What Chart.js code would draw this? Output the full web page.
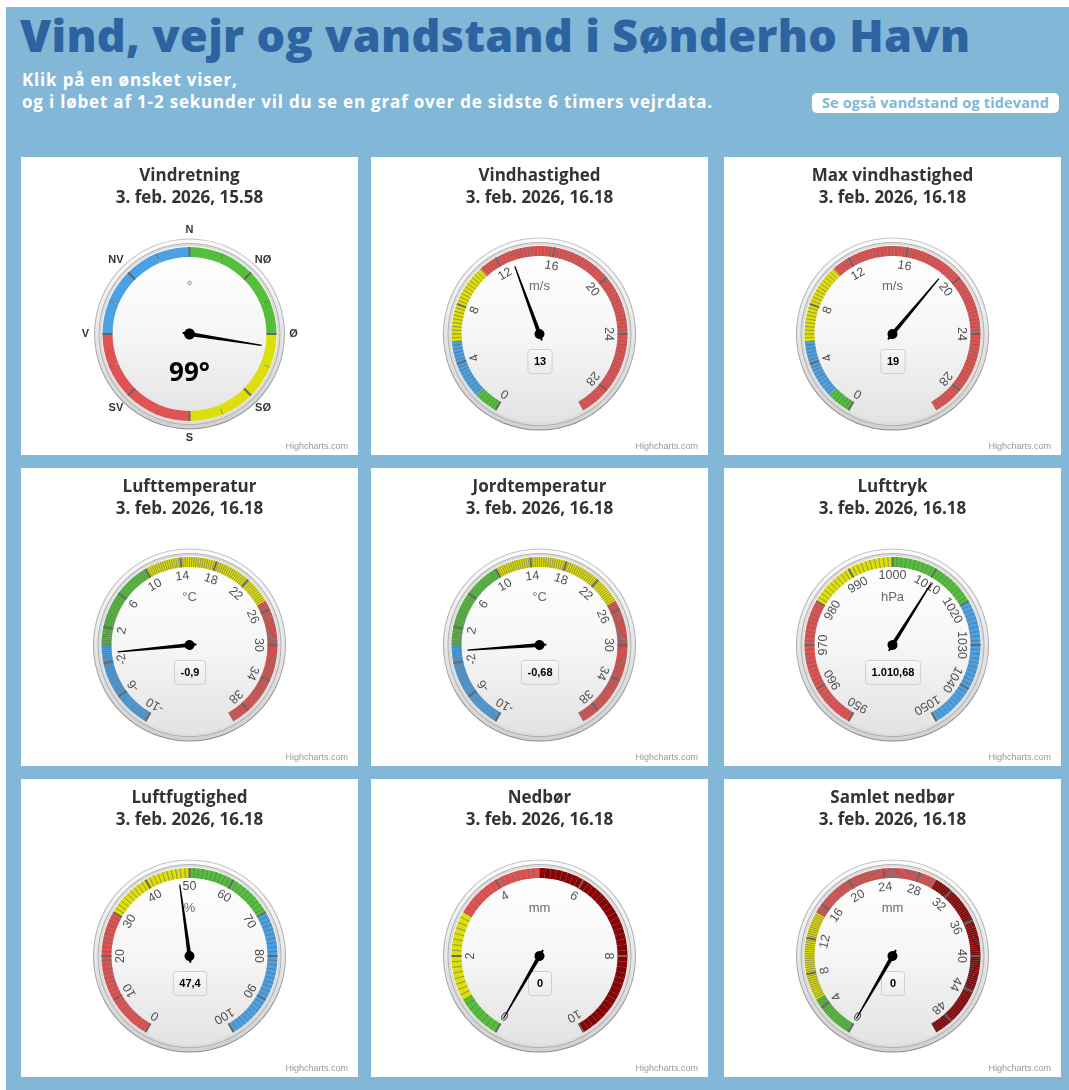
<!DOCTYPE html>
<html lang="da">
<head>
<meta charset="utf-8">
<title>Vind, vejr og vandstand i Sønderho Havn</title>
<script src="https://cdn.jsdelivr.net/npm/chart.js@4.4.1/dist/chart.umd.min.js"></script>
<style>
  html, body { margin: 0; padding: 0; background: #fff; }
  body { width: 1069px; height: 1090px; position: relative; overflow: hidden; font-family: 'Open Sans', sans-serif; }
  #page { position: absolute; left: 6px; top: 7px; width: 1063px; height: 1083px; background: #82b7d7; }
  #head { position: absolute; left: 20px; top: 13px; margin: 0; font-size: 45px; line-height: 44px; font-weight: 800; color: #2c63a0; white-space: nowrap; }
  .sub { position: absolute; left: 22px; font-size: 17px; line-height: 22px; font-weight: 700; color: #fff; white-space: nowrap; }
  #btn { position: absolute; left: 812px; top: 93px; width: 247px; height: 20px; line-height: 20px; border-radius: 5px; background: #fff; color: #82b7d7; font-size: 14.5px; font-weight: 700; text-align: center; white-space: nowrap; }
  .panel { position: absolute; width: 337px; height: 298px; background: #fff; }
  .panel canvas { position: absolute; left: 0; top: 0; }
  .credit { position: absolute; right: 10px; bottom: 4px; font: 9px 'Liberation Sans', Arial, sans-serif; color: #999; }
</style>
</head>
<body>
<div id="page"></div>
<h1 id="head">Vind, vejr og vandstand i Sønderho Havn</h1>
<div class="sub" id="sub1" style="top:69px">Klik på en ønsket viser,</div>
<div class="sub" id="sub2" style="top:91px">og i løbet af 1-2 sekunder vil du se en graf over de sidste 6 timers vejrdata.</div>
<div id="btn">Se også vandstand og tidevand</div>
<div id="grid"></div>
<script>
// --- data ---
const gaugeTitles = ['Vindretning', 'Vindhastighed', 'Max vindhastighed', 'Lufttemperatur', 'Jordtemperatur', 'Lufttryk', 'Luftfugtighed', 'Nedbør', 'Samlet nedbør'];
const gaugeTimes = ['3. feb. 2026, 15.58', '3. feb. 2026, 16.18', '3. feb. 2026, 16.18', '3. feb. 2026, 16.18', '3. feb. 2026, 16.18', '3. feb. 2026, 16.18', '3. feb. 2026, 16.18', '3. feb. 2026, 16.18', '3. feb. 2026, 16.18'];
const gaugeValues = [99, 13, 19, -0.9, -0.68, 1010.68, 47.4, 0, 0];
const gaugeUnits = ['', 'm/s', 'm/s', '°C', '°C', 'hPa', '%', 'mm', 'mm'];
const gaugeMin = [0, 0, 0, -10, -10, 950, 0, 0, 0];
const gaugeMax = [360, 30, 30, 40, 40, 1050, 100, 10, 50];
const gaugeMinorStep = [22.5, 0.25, 0.25, 0.25, 0.25, 1, 1, 0.125, 0.25];

const compassTicks = [0, 45, 90, 135, 180, 225, 270, 315];
const compassLabels = ['N', 'NØ', 'Ø', 'SØ', 'S', 'SV', 'V', 'NV'];
const speedTicks = [0, 4, 8, 12, 16, 20, 24, 28];
const tempTicks = [-10, -6, -2, 2, 6, 10, 14, 18, 22, 26, 30, 34, 38];
const pressureTicks = [950, 960, 970, 980, 990, 1000, 1010, 1020, 1030, 1040, 1050];
const humidityTicks = [0, 10, 20, 30, 40, 50, 60, 70, 80, 90, 100];
const rainTicks = [0, 2, 4, 6, 8, 10];
const rainTotalTicks = [0, 4, 8, 12, 16, 20, 24, 28, 32, 36, 40, 44, 48];

const GREEN = '#55bf3b', YELLOW = '#dddf0d', RED = '#df5353', BLUE = '#4ca1e3', DARKRED = '#8b0000';
const compassBands = [0, 90, 180, 270, 360];
const compassColors = [GREEN, YELLOW, RED, BLUE];
const speedBands = [0, 1.6, 5.5, 10.8, 30];
const speedColors = [GREEN, BLUE, YELLOW, RED];
const tempBands = [-10, 0, 10, 25, 40];
const tempColors = [BLUE, GREEN, YELLOW, RED];
const pressureBands = [950, 980, 1000, 1020, 1050];
const pressureColors = [RED, YELLOW, GREEN, BLUE];
const humidityBands = [0, 30, 50, 70, 100];
const humidityColors = [RED, YELLOW, GREEN, BLUE];
const rainBands = [0, 1, 3, 5, 10];
const rainColors = [GREEN, YELLOW, RED, DARKRED];
const rainTotalBands = [0, 5, 15, 30, 50];
const rainTotalColors = [GREEN, YELLOW, RED, DARKRED];

const gaugeTicks = [compassTicks, speedTicks, speedTicks, tempTicks, tempTicks, pressureTicks, humidityTicks, rainTicks, rainTotalTicks];
const gaugeBands = [compassBands, speedBands, speedBands, tempBands, tempBands, pressureBands, humidityBands, rainBands, rainTotalBands];
const gaugeColors = [compassColors, speedColors, speedColors, tempColors, tempColors, pressureColors, humidityColors, rainColors, rainTotalColors];

const panelLeft = [21, 371, 724];
const panelTop = [157, 468, 779];

// stretch a text line to the width it has in the picture
function fitWidth(el, font, target) {
  const c = document.createElement('canvas').getContext('2d');
  c.font = font;
  const w = c.measureText(el.textContent).width;
  const ls = (target - w) / (el.textContent.length - 1);
  el.style.letterSpacing = ls.toFixed(2) + 'px';
  return ls;
}
fitWidth(document.getElementById('head'), '800 45px "Open Sans"', 950);
const subLs = fitWidth(document.getElementById('sub2'), '700 17px "Open Sans"', 690);
document.getElementById('sub1').style.letterSpacing = subLs.toFixed(2) + 'px';
fitWidth(document.getElementById('btn'), '700 14.5px "Open Sans"', 227);

function fmtDa(v) {
  const parts = Math.abs(v).toString().split('.');
  const int = parts[0].replace(/\B(?=(\d{3})+(?!\d))/g, '.');
  return (v < 0 ? '-' : '') + int + (parts[1] ? ',' + parts[1] : '');
}

// cut the scale into minor-tick slices, also cut at band edges
function buildSlices(i) {
  const min = gaugeMin[i], max = gaugeMax[i], step = gaugeMinorStep[i];
  const n = Math.round((max - min) / step);
  const stops = [];
  for (let k = 0; k < n; k++) stops.push({ v: +(min + k * step).toFixed(4), tick: true });
  gaugeBands[i].forEach(e => {
    if (e < max && !stops.some(s => Math.abs(s.v - e) < 1e-6)) stops.push({ v: e, tick: false });
  });
  stops.sort((a, b) => a.v - b.v);
  const widths = [], colors = [];
  stops.forEach((s, k) => {
    const end = k + 1 < stops.length ? stops[k + 1].v : max;
    widths.push(+(end - s.v).toFixed(4));
    const mid = (s.v + end) / 2;
    let b = 0;
    while (b < gaugeBands[i].length - 2 && mid > gaugeBands[i][b + 1]) b++;
    colors.push(gaugeColors[i][b]);
  });
  return { stops, widths, colors };
}

function disc(ctx, x, y, r, fill) {
  ctx.beginPath();
  ctx.arc(x, y, r, 0, Math.PI * 2);
  ctx.fillStyle = fill;
  ctx.fill();
}

function vGrad(ctx, y0, y1, stops) {
  const g = ctx.createLinearGradient(0, y0, 0, y1);
  stops.forEach(s => g.addColorStop(s[0], s[1]));
  return g;
}

const gaugePlugin = {
  id: 'gauge',
  beforeDatasetsDraw(chart) {
    const ctx = chart.ctx;
    const arc = chart.getDatasetMeta(0).data[0];
    const x = arc.x, y = arc.y, R = arc.outerRadius;
    ctx.save();
    disc(ctx, x, y, R * 1.097, vGrad(ctx, y - R, y + R, [[0, '#c4c4c4'], [1, '#8c8c8c']]));
    disc(ctx, x, y, R * 1.086, vGrad(ctx, y - R, y + R, [[0, '#fbfbfb'], [1, '#d2d2d2']]));
    disc(ctx, x, y, R * 1.045, '#a8a8a8');
    disc(ctx, x, y, R * 1.036, '#dcdcdc');
    disc(ctx, x, y, R * 1.01, vGrad(ctx, y - R, y + R, [[0, '#ffffff'], [0.5, '#f6f6f6'], [1, '#e3e3e3']]));
    ctx.restore();
  },
  afterDatasetsDraw(chart, args, opts) {
    const i = opts.idx;
    const ctx = chart.ctx;
    const arcs = chart.getDatasetMeta(0).data;
    const stops = chart.$slices.stops;
    const x = arcs[0].x, y = arcs[0].y, R = arcs[0].outerRadius, Ri = arcs[0].innerRadius;
    const ticks = gaugeTicks[i];
    const compass = i === 0;
    const angleOf = v => {
      if (Math.abs(v - gaugeMax[i]) < 1e-6) return arcs[arcs.length - 1].endAngle;
      const k = stops.findIndex(s => Math.abs(s.v - v) < 1e-6);
      return arcs[k].startAngle;
    };
    ctx.save();
    // tick marks on the bands
    const tickVals = stops.filter(s => s.tick).map(s => s.v);
    if (!compass) tickVals.push(gaugeMax[i]);
    tickVals.forEach(v => {
      const a = angleOf(v);
      const major = ticks.some(t => Math.abs(t - v) < 1e-6);
      const r0 = compass && !major ? R - 6 : Ri;
      ctx.beginPath();
      ctx.moveTo(x + r0 * Math.cos(a), y + r0 * Math.sin(a));
      ctx.lineTo(x + R * Math.cos(a), y + R * Math.sin(a));
      ctx.lineWidth = major ? 2 : 1;
      ctx.strokeStyle = major ? '#666' : 'rgba(70,70,70,0.5)';
      ctx.stroke();
    });
    // axis labels
    ctx.textAlign = 'center';
    ctx.textBaseline = 'middle';
    ticks.forEach((t, k) => {
      const a = angleOf(t);
      if (compass) {
        ctx.font = 'bold 11px "Liberation Sans", Arial, sans-serif';
        ctx.fillStyle = '#333';
        ctx.fillText(compassLabels[k], x + (R + 17) * Math.cos(a), y + (R + 17) * Math.sin(a));
      } else {
        ctx.save();
        ctx.translate(x, y);
        ctx.rotate(a + Math.PI / 2);
        ctx.font = '12.5px "Liberation Sans", Arial, sans-serif';
        ctx.fillStyle = '#505050';
        ctx.fillText(String(t), 0, -(R - 19));
        ctx.restore();
      }
    });
    // unit
    if (gaugeUnits[i]) {
      ctx.font = '13px "Liberation Sans", Arial, sans-serif';
      ctx.fillStyle = '#6a6a6a';
      ctx.fillText(gaugeUnits[i], x, y - 48);
    }
    // value box / big value
    if (compass) {
      ctx.font = 'bold 26px "Open Sans", sans-serif';
      ctx.fillStyle = '#000';
      ctx.fillText(gaugeValues[i] + '°', x, y + 40);
      ctx.beginPath();
      ctx.arc(x, y - 51, 1.8, 0, Math.PI * 2);
      ctx.fillStyle = '#e6e6e6';
      ctx.fill();
      ctx.strokeStyle = '#999';
      ctx.lineWidth = 1;
      ctx.stroke();
    } else {
      const txt = fmtDa(gaugeValues[i]);
      ctx.font = 'bold 11px "Liberation Sans", Arial, sans-serif';
      const w = Math.max(ctx.measureText(txt).width + 12, 23);
      const bx = x - w / 2, by = y + 15;
      ctx.beginPath();
      ctx.roundRect(bx + 0.5, by + 0.5, w, 24, 3);
      ctx.fillStyle = vGrad(ctx, by, by + 24, [[0, '#f8f8f8'], [1, '#ececec']]);
      ctx.fill();
      ctx.strokeStyle = '#cfcfcf';
      ctx.lineWidth = 1;
      ctx.stroke();
      ctx.fillStyle = '#000';
      ctx.fillText(txt, x + 0.5, by + 12.5);
    }
    // needle from the value dataset
    const va = chart.getDatasetMeta(1).data[0].endAngle;
    const L = R * (compass ? 0.84 : 0.82);
    ctx.translate(x, y);
    ctx.rotate(va + Math.PI / 2);
    ctx.beginPath();
    ctx.moveTo(-2, 0);
    ctx.lineTo(-0.6, -L);
    ctx.lineTo(0.6, -L);
    ctx.lineTo(2, 0);
    ctx.lineTo(0.8, 7);
    ctx.lineTo(-0.8, 7);
    ctx.closePath();
    ctx.fillStyle = '#000';
    ctx.fill();
    ctx.beginPath();
    ctx.arc(0, 0, compass ? 5.5 : 5, 0, Math.PI * 2);
    ctx.fill();
    ctx.restore();
  }
};

const grid = document.getElementById('grid');
gaugeTitles.forEach((title, i) => {
  const panel = document.createElement('div');
  panel.className = 'panel';
  panel.style.left = panelLeft[i % 3] + 'px';
  panel.style.top = panelTop[Math.floor(i / 3)] + 'px';
  const canvas = document.createElement('canvas');
  canvas.width = 337;
  canvas.height = 298;
  panel.appendChild(canvas);
  const credit = document.createElement('div');
  credit.className = 'credit';
  credit.textContent = 'Highcharts.com';
  panel.appendChild(credit);
  grid.appendChild(panel);

  const compass = i === 0;
  const slices = buildSlices(i);
  const span = compass ? 360 : 300;
  const start = compass ? 0 : -150;
  const R = compass ? 87 : 88;
  const Ri = compass ? 77 : 78;

  new Chart(canvas, {
    type: 'doughnut',
    data: {
      labels: slices.stops.map(s => String(s.v)),
      datasets: [
        { data: slices.widths, backgroundColor: slices.colors, borderWidth: 0, weight: 1, rotation: start, circumference: span },
        { data: [gaugeValues[i] - gaugeMin[i], gaugeMax[i] - gaugeValues[i]], backgroundColor: 'transparent', borderWidth: 0, weight: 0, rotation: start, circumference: span },
        { data: [1], backgroundColor: 'transparent', borderWidth: 0, weight: 0, rotation: 0, circumference: 360 }
      ]
    },
    options: {
      responsive: false,
      animation: false,
      events: [],
      radius: R,
      cutout: (Ri / R * 100) + '%',
      plugins: {
        legend: { display: false },
        tooltip: { enabled: false },
        title: {
          display: true,
          text: [title, gaugeTimes[i]],
          color: '#333',
          font: { family: '"Open Sans", sans-serif', size: 17, weight: 'bold', lineHeight: '22px' },
          padding: { top: 8, bottom: 4 }
        },
        gauge: { idx: i }
      }
    },
    plugins: [{ id: 'slices', beforeInit(c) { c.$slices = slices; } }, gaugePlugin]
  });
});
</script>
</body>
</html>
